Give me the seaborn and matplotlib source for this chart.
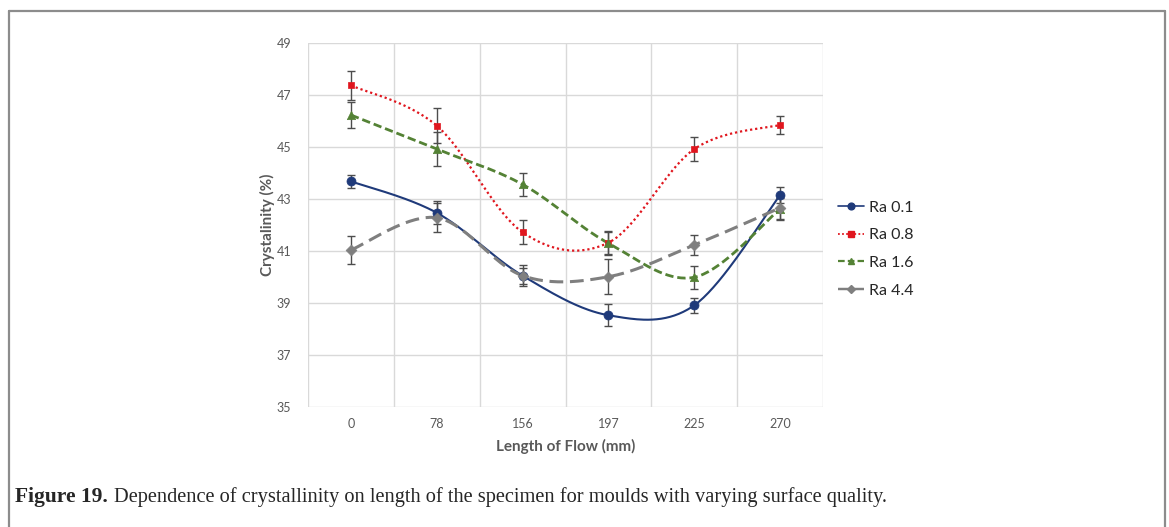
import numpy as np
import pandas as pd
import matplotlib
matplotlib.use("Agg")
import matplotlib.pyplot as plt
import seaborn as sns
from matplotlib.lines import Line2D

# ---- data ----
categories = ["0", "78", "156", "197", "225", "270"]
series_names = ["Ra 0.1", "Ra 0.8", "Ra 1.6", "Ra 4.4"]
ra01 = [43.68, 42.47, 40.05, 38.53, 38.91, 43.15]
ra08 = [47.37, 45.82, 41.72, 41.32, 44.92, 45.85]
ra16 = [46.23, 44.92, 43.56, 41.30, 39.99, 42.62]
ra44 = [41.04, 42.28, 40.05, 40.01, 41.23, 42.66]
err01 = [0.26, 0.45, 0.30, 0.43, 0.30, 0.30]
err08 = [0.55, 0.68, 0.46, 0.45, 0.45, 0.36]
err16 = [0.51, 0.65, 0.45, 0.45, 0.44, 0.40]
err44 = [0.53, 0.55, 0.40, 0.67, 0.37, 0.45]
y_ticks = [35, 37, 39, 41, 43, 45, 47, 49]

values = [ra01, ra08, ra16, ra44]
errors = [err01, err08, err16, err44]
colors = ["#1F3A7A", "#E0161E", "#548235", "#7F7F7F"]
markers = ["o", "s", "^", "D"]
msizes = [6.5, 5, 6, 5.5]
styles = [dict(linestyle="-", lw=1.5),
          dict(linestyle=(0, (1, 1.3)), lw=1.6),
          dict(linestyle=(0, (3, 1.4)), lw=2.0),
          dict(linestyle=(0, (4.5, 2.2)), lw=2.2)]


def smooth(xs, ys, n=40):
    """Excel-like smoothed line (Catmull-Rom Bezier) through the data points."""
    P = np.column_stack([xs, ys]).astype(float)
    ext = np.vstack([P[0], P, P[-1]])
    out = []
    t = np.linspace(0, 1, n)[:, None]
    for i in range(len(P) - 1):
        p0, p1, p2, p3 = ext[i], ext[i + 1], ext[i + 2], ext[i + 3]
        c1 = p1 + (p2 - p0) / 6.0
        c2 = p2 - (p3 - p1) / 6.0
        seg = ((1 - t) ** 3) * p1 + 3 * ((1 - t) ** 2) * t * c1 + 3 * (1 - t) * t ** 2 * c2 + t ** 3 * p2
        out.append(seg if i == 0 else seg[1:])
    out = np.vstack(out)
    return out[:, 0], out[:, 1]


sns.set_style("white")
plt.rcParams["font.family"] = ["Lato", "DejaVu Sans"]

fig = plt.figure(figsize=(11.69, 5.27), dpi=100)
ax = fig.add_axes([308 / 1169, 1 - 407 / 527, (823 - 308) / 1169, (407 - 43) / 527])

xpos = np.arange(len(categories))
grid_c = "#D9D9D9"
for yv in y_ticks:
    ax.axhline(yv, color=grid_c, lw=1.0, zorder=0)
for xv in np.arange(-0.5, len(categories), 1.0):
    ax.axvline(xv, color=grid_c, lw=1.0, zorder=0)

for name, ys, es, c, m, ms, st in zip(series_names, values, errors, colors, markers, msizes, styles):
    sx, sy = smooth(xpos, ys)
    sns.lineplot(x=sx, y=sy, sort=False, ax=ax, color=c, linestyle=st["linestyle"],
                 lw=st["lw"], zorder=3, estimator=None)
    ax.errorbar(xpos, ys, yerr=es, fmt="none", ecolor="#4D4D4D", elinewidth=1.0,
                capsize=3, capthick=1.0, zorder=4)
    sns.scatterplot(x=xpos, y=ys, ax=ax, color=c, marker=m, s=ms ** 2,
                    edgecolor=c, linewidth=0.5, zorder=5, legend=False)

ax.set_xlim(-0.5, len(categories) - 0.5)
ax.set_ylim(35, 49)
ax.set_xticks(xpos)
ax.set_xticklabels(categories)
ax.set_yticks(y_ticks)
ax.set_yticklabels([str(v) for v in y_ticks])
ax.tick_params(axis="both", length=0, labelsize=9, labelcolor="#595959")
ax.tick_params(axis="x", pad=8)
ax.tick_params(axis="y", pad=12)
for sp in ax.spines.values():
    sp.set_visible(False)
ax.set_xlabel("Length of Flow (mm)", fontsize=11, fontweight="bold", color="#595959", labelpad=6)
ax.set_ylabel("Crystalinity (%)", fontsize=11, fontweight="bold", color="#595959", labelpad=1)

handles = [Line2D([0], [0], color=c, marker=m, markersize=ms * 0.75, linestyle=st["linestyle"],
                  lw=st["lw"] * 0.8) for c, m, ms, st in zip(colors, markers, msizes, styles)]
fig.legend(handles, series_names, loc="upper left", bbox_to_anchor=(824 / 1169, 1 - 186 / 527),
           frameon=False, fontsize=11.5, handlelength=1.6, handletextpad=0.3, labelspacing=0.85,
           labelcolor="#262626")

# caption
fig.text(15 / 1169, 1 - 497 / 527, "Figure 19.", fontsize=15.5, fontweight="bold",
         family="Liberation Serif", va="center", ha="left")
fig.text(114 / 1169, 1 - 497 / 527,
         "Dependence of crystallinity on length of the specimen for moulds with varying surface quality.",
         fontsize=14.7, family="Liberation Serif", va="center", ha="left")

# outer frame
fc = "#8C8C8C"
fig.add_artist(Line2D([9 / 1169, 9 / 1169], [0, 1 - 11 / 527], color=fc, lw=1.6, transform=fig.transFigure))
fig.add_artist(Line2D([1165 / 1169, 1165 / 1169], [0, 1 - 11 / 527], color=fc, lw=1.6, transform=fig.transFigure))
fig.add_artist(Line2D([9 / 1169, 1165 / 1169], [1 - 11 / 527, 1 - 11 / 527], color=fc, lw=1.6, transform=fig.transFigure))

fig.savefig("out.png", dpi=100)
